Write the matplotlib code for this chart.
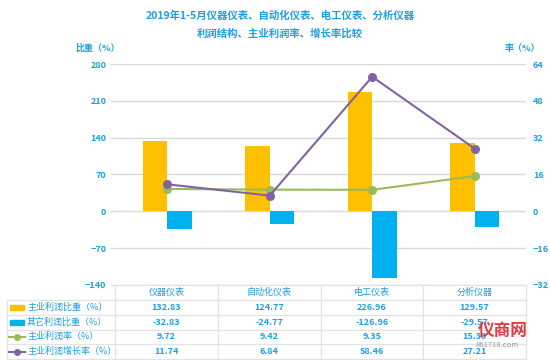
import numpy as np
import matplotlib
matplotlib.use("Agg")
import matplotlib.pyplot as plt
from matplotlib.lines import Line2D
from matplotlib.patches import Rectangle

plt.rcParams["font.family"] = ["Noto Sans CJK SC", "DejaVu Sans"]

categories = ["仪器仪表", "自动化仪表", "电工仪表", "分析仪器"]
main_share = [132.83, 124.77, 226.96, 129.57]
other_share = [-32.83, -24.77, -126.96, -29.57]
main_rate = [9.72, 9.42, 9.35, 15.30]
growth = [11.74, 6.84, 58.46, 27.21]
series_names = ["主业利润比重（%）", "其它利润比重（%）", "主业利润率（%）", "主业利润增长率（%）"]

YEL, BLU, GRN, PUR = "#FFC000", "#00B0F0", "#9BBB59", "#8064A2"
TXT = "#1E9FE0"
GRID = "#D9D9D9"
W, H = 550, 360

fig = plt.figure(figsize=(5.5, 3.6), dpi=100)
ax = fig.add_axes([116 / W, 1 - 285 / H, 410 / W, 221 / H])
ax2 = ax.twinx()

x = np.arange(len(categories))
bw = 0.24
ax.bar(x - bw / 2, main_share, bw, color=YEL, zorder=2)
ax.bar(x + bw / 2, other_share, bw, color=BLU, zorder=2)
ax.set_xlim(-0.5, 3.5)
ax.set_ylim(-140, 280)
ax.set_yticks(np.arange(-140, 281, 70))
ax.set_xticks([])
ax.grid(axis="y", color=GRID, lw=1, zorder=0)
ax.set_axisbelow(True)

ax2.plot(x, main_rate, "-o", color=GRN, lw=1.5, ms=5.5, zorder=3)
ax2.plot(x, growth, "-o", color=PUR, lw=1.5, ms=5.5, zorder=4)
ax2.set_ylim(-32, 64)
ax2.set_yticks(np.arange(-32, 65, 16))

for a in (ax, ax2):
    for s in a.spines.values():
        s.set_visible(False)
    a.tick_params(axis="y", colors=TXT, labelsize=6.5, length=4, width=0.8)
ax.tick_params(axis="y", color=GRID, pad=3)
ax2.tick_params(axis="y", length=0, pad=5)
for t in ax.get_yticklabels() + ax2.get_yticklabels():
    t.set_fontweight("bold")

def px(xp, yp):
    return xp / W, 1 - yp / H

fig.text(*px(280, 16), "2019年1-5月仪器仪表、自动化仪表、电工仪表、分析仪器",
         ha="center", va="center", color=TXT, fontsize=7.5, fontweight="bold")
fig.text(*px(280, 33), "利润结构、主业利润率、增长率比较",
         ha="center", va="center", color=TXT, fontsize=7.5, fontweight="bold")
fig.text(*px(98, 48), "比重（%）", ha="center", va="center", color=TXT, fontsize=6.5, fontweight="bold")
fig.text(*px(522, 48), "率（%）", ha="center", va="center", color=TXT, fontsize=6.5, fontweight="bold")

# data table below the plot
cols = [115 + i * 102.75 for i in range(5)]
rows = [285, 300, 315, 329.5, 344, 359]
lc = dict(color="#E3E3E3", lw=0.9)
fig.add_artist(Line2D([cols[0] / W, cols[-1] / W], [1 - rows[0] / H] * 2, **lc))
for r in rows[1:]:
    fig.add_artist(Line2D([7 / W, cols[-1] / W], [1 - r / H] * 2, **lc))
for c in cols:
    fig.add_artist(Line2D([c / W] * 2, [1 - rows[0] / H, 1 - rows[-1] / H], **lc))
fig.add_artist(Line2D([7 / W] * 2, [1 - rows[1] / H, 1 - rows[-1] / H], **lc))

for i, name in enumerate(categories):
    fig.text(*px((cols[i] + cols[i + 1]) / 2, (rows[0] + rows[1]) / 2), name,
             ha="center", va="center", color=TXT, fontsize=6.5)

table_vals = [main_share, other_share, main_rate, growth]
colors = [YEL, BLU, GRN, PUR]
for j, (name, vals, col) in enumerate(zip(series_names, table_vals, colors)):
    yc = (rows[j + 1] + rows[j + 2]) / 2
    if j < 2:
        fig.add_artist(Rectangle(px(10, yc + 2.5), 14 / W, 5 / H, color=col))
    else:
        fig.add_artist(Line2D([9 / W, 25 / W], [1 - yc / H] * 2, color=col, lw=1.5))
        fig.add_artist(Line2D([17 / W], [1 - yc / H], color=col, marker="o", ms=4))
    fig.text(*px(27, yc), name, ha="left", va="center", color=TXT, fontsize=6.5)
    for i, v in enumerate(vals):
        fig.text(*px((cols[i] + cols[i + 1]) / 2, yc), f"{v:.2f}",
                 ha="center", va="center", color=TXT, fontsize=6.5, fontweight="bold")

# watermark
fig.text(*px(503, 331), "仪商网", ha="center", va="center", color="#E0252B",
         fontsize=12, fontweight="bold", alpha=0.9)
fig.text(*px(497, 345), "861718.com", ha="center", va="center", color="#9A9A9A",
         fontsize=5.5, style="italic")

fig.savefig("out.png", dpi=100)
